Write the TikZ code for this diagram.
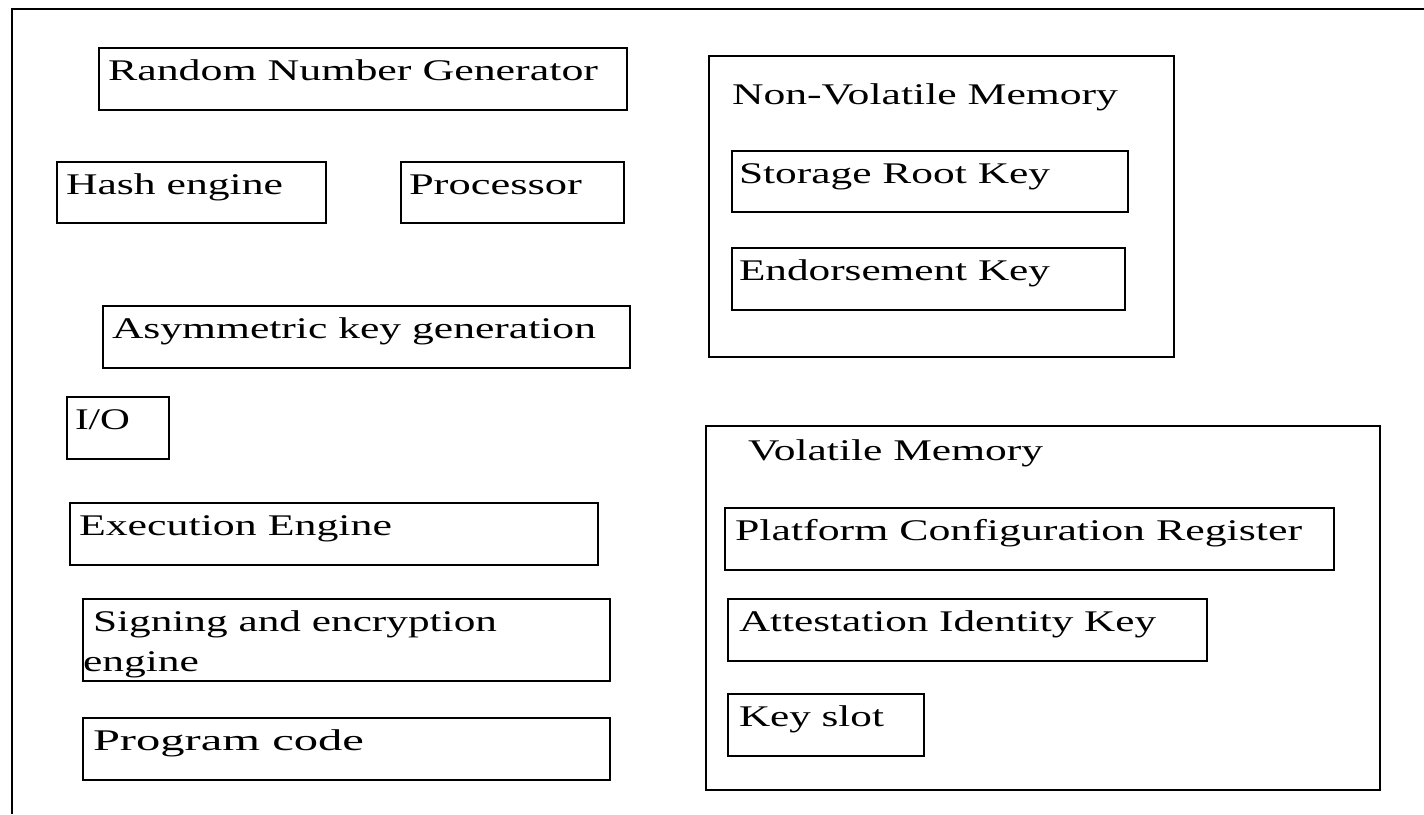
\documentclass[tikz,border=0pt]{standalone}
\usepackage{fontspec}
\setmainfont{Liberation Serif}
\usepackage{graphicx}
\newcommand\sx[2]{\resizebox{#1pt}{\height}{#2}}
\newcommand\bx[5]{\node[box, minimum width=#4pt, minimum height=#5pt] (#1) at (#2,#3) {};}
\newcommand\tx[5]{\node[lbl] (#1) at (#2,#3) {\sx{#4}{#5}};}
\tikzset{
  box/.style={draw, line width=2.2pt, inner sep=0pt, outer sep=0pt, anchor=north west},
  lbl/.style={anchor=base west, inner sep=0pt, outer sep=0pt, font=\fontsize{30}{36}\selectfont},
  frame/.style={line width=2.6pt},
}
\begin{document}
\begin{tikzpicture}[x=1pt,y=-1pt]
\useasboundingbox (0,0) rectangle (1424,814);
% outer frame
\coordinate (ftr) at (1424,9);
\coordinate (ftl) at (12,9);
\coordinate (fbl) at (12,814);
\draw[frame] (ftr) -- (ftl) -- (fbl);
% boxes
\bx{rng}{99}{48}{528}{62}
\bx{hash}{57}{162}{269}{61}
\bx{proc}{401}{162}{223}{61}
\bx{asym}{103}{306}{527}{62}
\bx{io}{67}{397}{102}{62}
\bx{exec}{70}{503}{528}{62}
\bx{sign}{83}{599}{527}{82}
\bx{prog}{83}{718}{527}{62}
\bx{nvm}{709}{56}{465}{301}
\bx{srk}{732}{151}{396}{61}
\bx{ek}{732}{248}{393}{62}
\bx{vm}{706}{426}{674}{364}
\bx{pcr}{725}{508}{609}{62}
\bx{aik}{728}{599}{479}{62}
\bx{ks}{728}{694}{196}{62}
% labels
\tx{trng}{108}{80}{490}{Random Number Generator}
\tx{thash}{66}{194}{217}{Hash engine}
\tx{tproc}{409}{194}{173}{Processor}
\tx{tasym}{112}{338}{484}{Asymmetric key generation}
\tx{tio}{75}{429}{55}{I/O}
\tx{texec}{79}{535}{313}{Execution Engine}
\tx{tsign}{93}{631}{404}{Signing and encryption}
\tx{tsignb}{83}{671}{116}{engine}
\tx{tprog}{93}{750}{271}{Program code}
\tx{tnvm}{732}{104}{386}{Non-Volatile Memory}
\tx{tsrk}{739}{183}{311}{Storage Root Key}
\tx{tek}{739}{280}{311}{Endorsement Key}
\tx{tvm}{748}{460}{295}{Volatile Memory}
\tx{tpcr}{735}{540}{567}{Platform Configuration Register}
\tx{taik}{739}{631}{417}{Attestation Identity Key}
\tx{tks}{739}{726}{145}{Key slot}
\end{tikzpicture}
\end{document}
